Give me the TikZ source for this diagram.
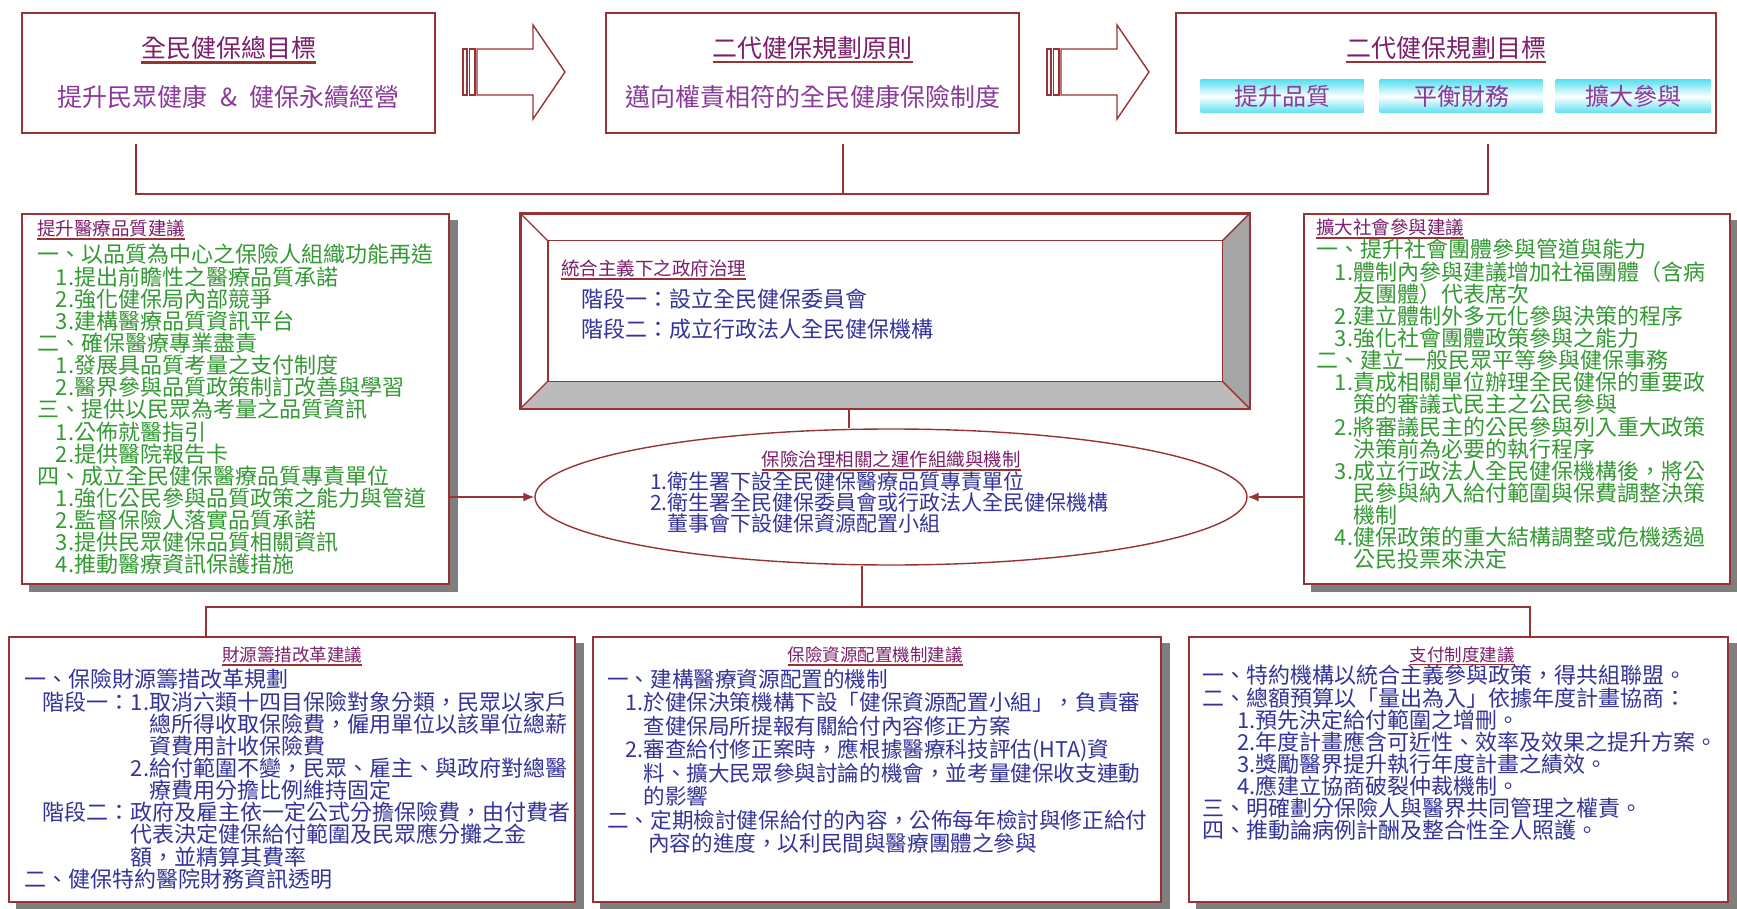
\documentclass[tikz,border=0pt]{standalone}
\usepackage{fontspec}
\setmainfont{Noto Sans CJK TC}
\usetikzlibrary{shapes.geometric,arrows.meta,backgrounds}

\definecolor{boxred}{HTML}{993333}
\definecolor{ttlpurple}{HTML}{7B1F6B}
\definecolor{subpurple}{HTML}{8A3A9A}
\definecolor{txtgreen}{HTML}{339933}
\definecolor{txtnavy}{HTML}{333399}
\definecolor{barcyan}{HTML}{5CE1F0}
\definecolor{bevgray}{HTML}{A6A6A6}
\definecolor{bevlight}{HTML}{BBBBBB}
\definecolor{shadegray}{HTML}{7F7F7F}

% underlined heading
\newcommand{\ulttl}[1]{\sbox0{\color{ttlpurple}#1}\rlap{\color{boxred}\rule[-0.24em]{\wd0}{0.11em}}\usebox0}
\newcommand{\subi}{\hspace*{0.85em}}

\tikzset{
  boxframe/.style={draw=boxred,line width=1.6pt,fill=white,inner sep=0pt},
  ttlfont/.style={font=\fontsize{18.5}{20}\selectfont,inner sep=0pt},
  bigfont/.style={font=\fontsize{25}{27}\selectfont,inner sep=0pt},
  bodytext/.style={anchor=north west,align=left,inner sep=0pt,font=\fontsize{22}{22.15}\selectfont},
  connline/.style={draw=boxred,line width=1.4pt},
  goalbar/.style={top color=barcyan,bottom color=barcyan,middle color=white,minimum height=33pt,
    inner sep=0pt,text=subpurple,font=\fontsize{24}{26}\selectfont}
}

\begin{document}
\begin{tikzpicture}[x=1pt,y=-1pt]
\useasboundingbox (0,0) rectangle (1737,909);

% top row
\node[boxframe,minimum width=413pt,minimum height=120pt] (tgoal) at (228.5,73) {};
\node[bigfont] (tgoalttl) at (228.5,50) {\ulttl{全民健保總目標}};
\node[bigfont,text=subpurple] (tgoaltxt) at (228.5,97) {提升民眾健康\hspace{0.5em}\&\hspace{0.5em}健保永續經營};

\node[boxframe,minimum width=413pt,minimum height=120pt] (tprin) at (812.5,73) {};
\node[bigfont] (tprinttl) at (812.5,50) {\ulttl{二代健保規劃原則}};
\node[bigfont,text=subpurple] (tprintxt) at (812.5,97) {邁向權責相符的全民健康保險制度};

\node[boxframe,minimum width=540pt,minimum height=120pt] (ttarg) at (1446,73) {};
\node[bigfont] (ttargttl) at (1446,50) {\ulttl{二代健保規劃目標}};
\node[goalbar,minimum width=163pt] (bar1) at (1282,96.5) {提升品質};
\node[goalbar,minimum width=163pt] (bar2) at (1461,96.5) {平衡財務};
\node[goalbar,minimum width=155pt] (bar3) at (1633,96.5) {擴大參與};

% block arrows
\foreach \dx in {0,584}{
  \begin{scope}[shift={(\dx,0)}]
    \draw[connline,fill=white] (477,49) -- (533,49) -- (533,25) -- (565,72) -- (533,119) -- (533,95) -- (477,95) -- cycle;
    \draw[connline,fill=white] (463,49) rectangle (467,95);
    \draw[connline,fill=white] (469.5,49) rectangle (475,95);
  \end{scope}
}

% upper bracket
\coordinate (jl) at (136,144);
\coordinate (jm) at (843,144);
\coordinate (jr) at (1488,144);
\draw[connline] (jl) -- ++(0,50) -| (jr);
\draw[connline] (jm) -- ++(0,50);

% left box
\node[boxframe,minimum width=427pt,minimum height=370pt] (qual) at (235.5,399) {};
\node[ttlfont,anchor=west] (qualttl) at (37,230) {\ulttl{提升醫療品質建議}};
\node[bodytext,text=txtgreen] (qualtxt) at (37,244) {一、以品質為中心之保險人組織功能再造\\
\subi 1.提出前瞻性之醫療品質承諾\\
\subi 2.強化健保局內部競爭\\
\subi 3.建構醫療品質資訊平台\\
二、確保醫療專業盡責\\
\subi 1.發展具品質考量之支付制度\\
\subi 2.醫界參與品質政策制訂改善與學習\\
三、提供以民眾為考量之品質資訊\\
\subi 1.公佈就醫指引\\
\subi 2.提供醫院報告卡\\
四、成立全民健保醫療品質專責單位\\
\subi 1.強化公民參與品質政策之能力與管道\\
\subi 2.監督保險人落實品質承諾\\
\subi 3.提供民眾健保品質相關資訊\\
\subi 4.推動醫療資訊保護措施};

% bevelled box
\node[boxframe,minimum width=728pt,minimum height=194pt] (gov) at (885,311) {};
\node[minimum width=674pt,minimum height=140pt,inner sep=0pt] (govin) at (885,311) {};
\fill[bevgray] (gov.north east) -- (gov.south east) -- (govin.south east) -- (govin.north east) -- cycle;
\fill[bevlight] (gov.south west) -- (gov.south east) -- (govin.south east) -- (govin.south west) -- cycle;
\draw[connline,line width=1.6pt] (gov.north west) rectangle (gov.south east);
\draw[connline] (govin.north west) rectangle (govin.south east);
\foreach \c in {north west,north east,south west,south east}
  \draw[connline] (gov.\c) -- (govin.\c);
\node[ttlfont,anchor=west] (govttl) at (561,270) {\ulttl{統合主義下之政府治理}};
\node[bodytext,text=txtnavy,font=\fontsize{22}{30}\selectfont] (govtxt) at (581,289) {階段一：設立全民健保委員會\\
階段二：成立行政法人全民健保機構};

% ellipse
\node[ellipse,draw=boxred,line width=1.4pt,minimum width=712pt,minimum height=136pt,inner sep=0pt] (ell) at (891,497) {};
\node[ttlfont] (ellttl) at (891,461) {\ulttl{保險治理相關之運作組織與機制}};
\node[bodytext,text=txtnavy,font=\fontsize{21}{18.5}\selectfont] (elltxt) at (650,472) {1.衛生署下設全民健保醫療品質專責單位\\
2.衛生署全民健保委員會或行政法人全民健保機構\\
\hphantom{2.}董事會下設健保資源配置小組};
\coordinate (gm) at (849,420);
\draw[connline] (gov.south -| gm) -- (ell.north -| gm);

% right box
\node[boxframe,minimum width=426pt,minimum height=370pt] (part) at (1517,399) {};
\node[ttlfont,anchor=west] (partttl) at (1316,229) {\ulttl{擴大社會參與建議}};
\node[bodytext,text=txtgreen] (parttxt) at (1316,239) {一、提升社會團體參與管道與能力\\
\subi 1.體制內參與建議增加社福團體（含病\\
\subi\hphantom{1.}友團體）代表席次\\
\subi 2.建立體制外多元化參與決策的程序\\
\subi 3.強化社會團體政策參與之能力\\
二、建立一般民眾平等參與健保事務\\
\subi 1.責成相關單位辦理全民健保的重要政\\
\subi\hphantom{1.}策的審議式民主之公民參與\\
\subi 2.將審議民主的公民參與列入重大政策\\
\subi\hphantom{1.}決策前為必要的執行程序\\
\subi 3.成立行政法人全民健保機構後，將公\\
\subi\hphantom{1.}民參與納入給付範圍與保費調整決策\\
\subi\hphantom{1.}機制\\
\subi 4.健保政策的重大結構調整或危機透過\\
\subi\hphantom{1.}公民投票來決定};

\draw[connline,-{Latex[length=11pt,width=9pt]}] (qual.east |- ell.west) -- (ell.west);
\draw[connline,-{Latex[length=11pt,width=9pt]}] (part.west |- ell.east) -- (ell.east);

% lower bracket
\coordinate (km) at (862,607);
\coordinate (kl) at (206,607);
\coordinate (kr) at (1530,607);

% bottom row
\node[boxframe,minimum width=566pt,minimum height=265pt] (fin) at (292,769.5) {};
\node[ttlfont,font=\fontsize{17.5}{19}\selectfont] (finttl) at (292,656) {\ulttl{財源籌措改革建議}};
\node[bodytext,text=txtnavy] (fintxt) at (24,669) {一、保險財源籌措改革規劃\\
\subi 階段一：1.取消六類十四目保險對象分類，民眾以家戶\\
\subi\hphantom{階段一：1.}總所得收取保險費，僱用單位以該單位總薪\\
\subi\hphantom{階段一：1.}資費用計收保險費\\
\subi\hphantom{階段一：}2.給付範圍不變，民眾、雇主、與政府對總醫\\
\subi\hphantom{階段一：2.}療費用分擔比例維持固定\\
\subi 階段二：政府及雇主依一定公式分擔保險費，由付費者\\
\subi\hphantom{階段二：}代表決定健保給付範圍及民眾應分攤之金\\
\subi\hphantom{階段二：}額，並精算其費率\\
二、健保特約醫院財務資訊透明};

\node[boxframe,minimum width=568pt,minimum height=265pt] (res) at (877,769.5) {};
\node[ttlfont,font=\fontsize{17.5}{19}\selectfont] (resttl) at (875,656) {\ulttl{保險資源配置機制建議}};
\node[bodytext,text=txtnavy,font=\fontsize{21.6}{23.5}\selectfont] (restxt) at (607,669) {一、建構醫療資源配置的機制\\
\subi 1.於健保決策機構下設「健保資源配置小組」，負責審\\
\subi\hphantom{1.}查健保局所提報有關給付內容修正方案\\
\subi 2.審查給付修正案時，應根據醫療科技評估(HTA)資\\
\subi\hphantom{1.}料、擴大民眾參與討論的機會，並考量健保收支連動\\
\subi\hphantom{1.}的影響\\
二、定期檢討健保給付的內容，公佈每年檢討與修正給付\\
\hspace*{1.9em}內容的進度，以利民間與醫療團體之參與};

\node[boxframe,minimum width=539pt,minimum height=265pt] (pay) at (1458.5,769.5) {};
\node[ttlfont,font=\fontsize{17.5}{19}\selectfont] (payttl) at (1462,656) {\ulttl{支付制度建議}};
\node[bodytext,text=txtnavy] (paytxt) at (1202,665) {一、特約機構以統合主義參與政策，得共組聯盟。\\
二、總額預算以「量出為入」依據年度計畫協商：\\
\hspace*{1.6em}1.預先決定給付範圍之增刪。\\
\hspace*{1.6em}2.年度計畫應含可近性、效率及效果之提升方案。\\
\hspace*{1.6em}3.獎勵醫界提升執行年度計畫之績效。\\
\hspace*{1.6em}4.應建立協商破裂仲裁機制。\\
三、明確劃分保險人與醫界共同管理之權責。\\
四、推動論病例計酬及整合性全人照護。};

\draw[connline] (ell.south -| km) -- (km);
\draw[connline] (fin.north -| kl) -- (kl) -- (kr) -- (pay.north -| kr);

% drop shadows
\begin{scope}[on background layer]
  \foreach \b in {qual,part,fin,res,pay}
    \fill[shadegray] ([shift={(8pt,-7pt)}]\b.south west) rectangle ([shift={(8pt,-7pt)}]\b.north east);
\end{scope}
\end{tikzpicture}
\end{document}
